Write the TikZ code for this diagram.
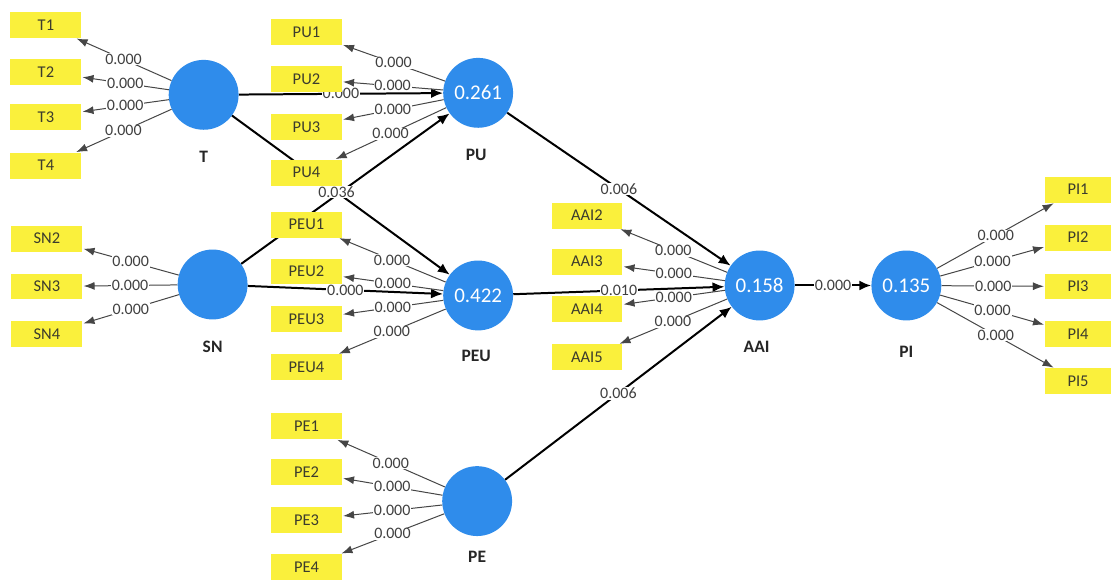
\documentclass[tikz,border=0pt]{standalone}
\usepackage{fontspec}
\setmainfont{Carlito}
\usetikzlibrary{arrows.meta}
\definecolor{plsblue}{RGB}{47,140,235}
\definecolor{plsyellow}{RGB}{250,240,60}
\definecolor{indtext}{RGB}{60,60,45}
\definecolor{lbltext}{RGB}{64,64,64}
\definecolor{outerline}{RGB}{70,70,70}
\pgfdeclarelayer{background}
\pgfsetlayers{background,main}
\begin{document}
\begin{tikzpicture}[x=1pt,y=-1pt,
 lv/.style={circle,fill=plsblue,minimum size=70pt,inner sep=0pt,text=white,font=\fontsize{21}{25}\selectfont},
 ind/.style={rectangle,fill=plsyellow,minimum width=71pt,minimum height=26pt,inner sep=0pt,text=indtext,font=\fontsize{16.5}{19}\selectfont},
 piind/.style={ind,minimum width=66pt},
 lvname/.style={font=\bfseries\fontsize{17.5}{20}\selectfont,text=black!85},
 lbl/.style={fill=white,inner sep=0.8pt,text=lbltext,font=\fontsize{16}{19}\selectfont},
 outer/.style={draw=outerline,line width=1pt,-{Latex[length=11pt,width=8pt]},shorten >=1pt},
 inner/.style={draw=black,line width=2pt,-{Latex[length=12pt,width=10pt]}}]

\begin{pgfonlayer}{background}
\path[use as bounding box,fill=white] (0,0) rectangle (1111,583);
\end{pgfonlayer}

% latent variables
\node[lv] (T) at (204,95) {};
\node[lv] (PU) at (479,93) {0.261};
\node[lv] (SN) at (213,285) {};
\node[lv] (PEU) at (479,296) {0.422};
\node[lv] (AAI) at (761,286) {0.158};
\node[lv] (PI) at (908,286) {0.135};
\node[lv] (PE) at (478,502) {};

\node[lvname] (Tn) at (204,157) {T};
\node[lvname] (PUn) at (477,155) {PU};
\node[lvname] (SNn) at (213,347) {SN};
\node[lvname] (PEUn) at (477,357) {PEU};
\node[lvname] (AAIn) at (758,347) {AAI};
\node[lvname] (PIn) at (908,352) {PI};
\node[lvname] (PEn) at (478,558) {PE};

% indicators
\node[ind] (T1) at (46,25) {T1};
\node[ind] (T2) at (46,72) {T2};
\node[ind] (T3) at (46,117) {T3};
\node[ind] (T4) at (46,166) {T4};
\node[ind] (SN2) at (47,239) {SN2};
\node[ind] (SN3) at (47,287) {SN3};
\node[ind] (SN4) at (47,335) {SN4};
\node[ind] (PU1) at (307,32) {PU1};
\node[ind] (PU2) at (307,79) {PU2};
\node[ind] (PU3) at (307,127) {PU3};
\node[ind] (PU4) at (307,173) {PU4};
\node[ind] (PEU1) at (307,225) {PEU1};
\node[ind] (PEU2) at (307,272) {PEU2};
\node[ind] (PEU3) at (307,320) {PEU3};
\node[ind] (PEU4) at (307,368) {PEU4};
\node[ind] (PE1) at (307,427) {PE1};
\node[ind] (PE2) at (307,473) {PE2};
\node[ind] (PE3) at (307,521) {PE3};
\node[ind] (PE4) at (307,568) {PE4};
\node[ind] (AAI2) at (588,216) {AAI2};
\node[ind] (AAI3) at (588,262) {AAI3};
\node[ind] (AAI4) at (588,310) {AAI4};
\node[ind] (AAI5) at (588,358) {AAI5};
\node[piind] (PI1) at (1080,190) {PI1};
\node[piind] (PI2) at (1080,238) {PI2};
\node[piind] (PI3) at (1080,287) {PI3};
\node[piind] (PI4) at (1080,335) {PI4};
\node[piind] (PI5) at (1080,382) {PI5};

\begin{pgfonlayer}{background}
% inner model
\draw[inner] (SN) -- (PU);
\draw[inner] (T) -- node[lbl,pos=0.48]{0.036} (PEU);
\draw[inner] (T) -- node[lbl]{0.000} (PU);
\draw[inner] (SN) -- node[lbl]{0.000} (PEU);
\draw[inner] (PU) -- node[lbl]{0.006} (AAI);
\draw[inner] (PEU) -- node[lbl]{0.010} (AAI);
\draw[inner] (PE) -- node[lbl]{0.006} (AAI);
\draw[inner] (AAI) -- node[lbl]{0.000} (PI);
% outer model
\foreach \i in {1,2,3,4} {\draw[outer] (T) -- node[lbl]{0.000} (T\i);}
\foreach \i in {2,3,4} {\draw[outer] (SN) -- node[lbl]{0.000} (SN\i);}
\foreach \i in {1,2,3,4} {\draw[outer] (PU) -- node[lbl]{0.000} (PU\i);}
\foreach \i in {1,2,3,4} {\draw[outer] (PEU) -- node[lbl]{0.000} (PEU\i);}
\foreach \i in {1,2,3,4} {\draw[outer] (PE) -- node[lbl]{0.000} (PE\i);}
\foreach \i in {2,3,4,5} {\draw[outer] (AAI) -- node[lbl]{0.000} (AAI\i);}
\foreach \i in {1,2,3,4,5} {\draw[outer] (PI) -- node[lbl]{0.000} (PI\i);}
\end{pgfonlayer}
\end{tikzpicture}
\end{document}
